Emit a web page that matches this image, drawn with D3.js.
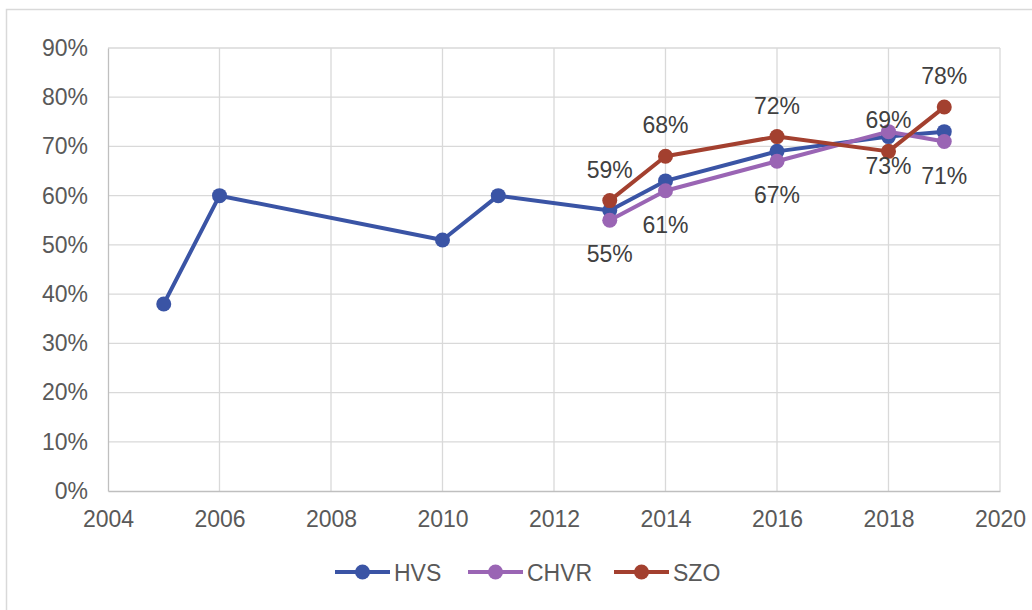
<!DOCTYPE html>
<html>
<head>
<meta charset="utf-8">
<script src="https://cdn.jsdelivr.net/npm/d3@7"></script>
<style>
  html, body { margin: 0; padding: 0; background: #fff; }
  svg { display: block; font-family: "Liberation Sans", Arial, sans-serif; }
</style>
</head>
<body>
<svg id="chart" width="1032" height="610"></svg>
<script>
const hvsYears = [2005, 2006, 2010, 2011, 2013, 2014, 2016, 2018, 2019];
const hvsValues = [0.38, 0.60, 0.51, 0.60, 0.57, 0.63, 0.69, 0.72, 0.73];
const chvrYears = [2013, 2014, 2016, 2018, 2019];
const chvrValues = [0.55, 0.61, 0.67, 0.73, 0.71];
const szoYears = [2013, 2014, 2016, 2018, 2019];
const szoValues = [0.59, 0.68, 0.72, 0.69, 0.78];
const xTicks = [2004, 2006, 2008, 2010, 2012, 2014, 2016, 2018, 2020];
const yTicks = [0, 0.1, 0.2, 0.3, 0.4, 0.5, 0.6, 0.7, 0.8, 0.9];

const seriesList = [
  { name: "HVS", years: hvsYears, values: hvsValues, color: "#3A54A5", label: null },
  { name: "CHVR", years: chvrYears, values: chvrValues, color: "#9A65B4", label: "below" },
  { name: "SZO", years: szoYears, values: szoValues, color: "#A3402F", label: "above" }
];

const svg = d3.select("#chart");
const pLeft = 108, pRight = 1000, pTop = 48, pBottom = 491;
const x = d3.scaleLinear().domain([2004, 2020]).range([pLeft, pRight]);
const y = d3.scaleLinear().domain([0, 0.9]).range([pBottom, pTop]);
const fmt = d3.format(".0%");

// outer border
svg.append("rect").attr("x", 6.5).attr("y", 9.5).attr("width", 1040).attr("height", 620)
  .attr("fill", "none").attr("stroke", "#D9D9D9").attr("stroke-width", 1.5);

// gridlines
svg.append("g").selectAll("line").data(yTicks.slice(1)).join("line")
  .attr("x1", pLeft).attr("x2", pRight).attr("y1", d => y(d)).attr("y2", d => y(d))
  .attr("stroke", "#D9D9D9").attr("stroke-width", 1.3);
svg.append("g").selectAll("line").data(xTicks.slice(1)).join("line")
  .attr("x1", d => x(d)).attr("x2", d => x(d)).attr("y1", pTop).attr("y2", pBottom)
  .attr("stroke", "#D9D9D9").attr("stroke-width", 1.3);

// axes
const yAxis = svg.append("g").attr("transform", `translate(${pLeft},0)`)
  .call(d3.axisLeft(y).tickValues(yTicks).tickFormat(fmt).tickSize(0).tickPadding(20));
yAxis.select(".domain").attr("stroke", "#BFBFBF").attr("stroke-width", 1.3);
yAxis.selectAll("text").attr("fill", "#595959").style("font-size", "23px")
  .style("font-family", "'Liberation Sans', Arial, sans-serif");

const xAxis = svg.append("g").attr("transform", `translate(0,${pBottom})`)
  .call(d3.axisBottom(x).tickValues(xTicks).tickFormat(d3.format("d")).tickSize(0).tickPadding(20));
xAxis.select(".domain").attr("stroke", "#BFBFBF").attr("stroke-width", 1.3);
xAxis.selectAll("text").attr("fill", "#595959").style("font-size", "23px")
  .style("font-family", "'Liberation Sans', Arial, sans-serif");

// lines
const line = d3.line().x(d => x(d[0])).y(d => y(d[1]));
seriesList.forEach(s => {
  const pts = s.years.map((yr, i) => [yr, s.values[i]]);
  const g = svg.append("g");
  g.append("path").datum(pts).attr("d", line).attr("fill", "none")
    .attr("stroke", s.color).attr("stroke-width", 4).attr("stroke-linejoin", "round");
  g.selectAll("circle").data(pts).join("circle")
    .attr("cx", d => x(d[0])).attr("cy", d => y(d[1])).attr("r", 7.5).attr("fill", s.color);
  s.pts = pts;
});

// data labels
seriesList.forEach(s => {
  if (!s.label) return;
  svg.append("g").selectAll("text").data(s.pts).join("text")
    .attr("x", d => x(d[0]))
    .attr("y", d => y(d[1]) + (s.label === "above" ? -23 : 42))
    .attr("text-anchor", "middle").attr("fill", "#404040").style("font-size", "23px")
    .text(d => fmt(d[1]));
});

// legend
const legendItems = [
  { s: seriesList[0], x0: 335 },
  { s: seriesList[1], x0: 468 },
  { s: seriesList[2], x0: 614 }
];
const ly = 572;
legendItems.forEach(it => {
  const g = svg.append("g");
  g.append("line").attr("x1", it.x0).attr("x2", it.x0 + 55).attr("y1", ly).attr("y2", ly)
    .attr("stroke", it.s.color).attr("stroke-width", 4);
  g.append("circle").attr("cx", it.x0 + 27.5).attr("cy", ly).attr("r", 7.5).attr("fill", it.s.color);
  g.append("text").attr("x", it.x0 + 59).attr("y", ly + 8.5).attr("fill", "#595959")
    .style("font-size", "23px").text(it.s.name);
});
</script>
</body>
</html>
